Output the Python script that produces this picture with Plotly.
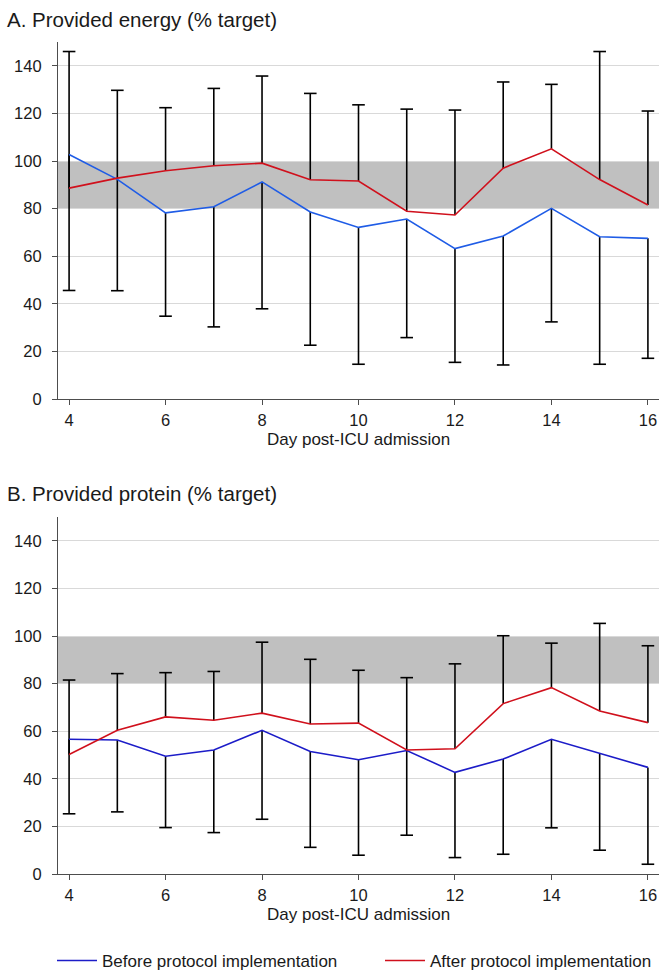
import plotly.graph_objects as go

# ---------------- data ----------------
days = list(range(4, 17))
tick_days = [4, 6, 8, 10, 12, 14, 16]
y_ticks = [0, 20, 40, 60, 80, 100, 120, 140]
target_band = [80, 100]

energy_before = [102.7, 92.3, 78.2, 80.8, 91.2, 78.6, 72.1, 75.6, 63.2, 68.5, 80.1, 68.2, 67.5]
energy_before_lower = [45.6, 45.5, 34.8, 30.3, 37.9, 22.6, 14.6, 25.8, 15.4, 14.3, 32.4, 14.6, 17.1]
energy_after = [88.6, 92.8, 95.9, 98.0, 99.1, 92.1, 91.6, 78.9, 77.3, 97.0, 105.1, 92.2, 81.5]
energy_after_upper = [146.0, 129.7, 122.4, 130.5, 135.7, 128.4, 123.6, 121.8, 121.4, 133.2, 132.2, 146.0, 121.0]

protein_before = [56.6, 56.3, 49.5, 52.1, 60.4, 51.5, 48.0, 51.9, 42.7, 48.3, 56.6, 50.7, 44.8]
protein_before_lower = [25.3, 26.1, 19.5, 17.4, 23.0, 11.2, 7.9, 16.3, 6.9, 8.3, 19.4, 10.0, 4.1]
protein_after = [50.2, 60.4, 66.0, 64.6, 67.6, 63.0, 63.4, 52.1, 52.6, 71.6, 78.3, 68.5, 63.6]
protein_after_upper = [81.5, 84.2, 84.6, 85.1, 97.4, 90.2, 85.6, 82.5, 88.3, 100.1, 97.0, 105.3, 95.9]

panel_titles = ["A. Provided energy (% target)", "B. Provided protein (% target)"]
x_title = "Day post-ICU admission"
series_names = ["Before protocol implementation", "After protocol implementation"]

# ---------------- style ----------------
W, H = 670, 970
ML, MR, MT, MB = 58, 11, 0, 30
PH = H - MT - MB
FONT = "Liberation Sans, Arial, sans-serif"
TXT = "#1a1a1a"
AX = "#4d4d4d"
GRID = "#d9d9d9"
BAND = "#c0c0c0"
RED = "#d0101c"
BLUE_A = "#1f5ce6"
BLUE_B = "#1c1cc8"
ERR_W = 1.6


def pyf(p):
    """pixel row (from top of figure) -> paper fraction"""
    return (H - MB - p) / PH


def pxf(p):
    return (p - ML) / (W - ML - MR)


fig = go.Figure()

panels = [
    dict(xa="x", ya="y", before=energy_before, lower=energy_before_lower,
         after=energy_after, upper=energy_after_upper, blue=BLUE_A, legend=False),
    dict(xa="x2", ya="y2", before=protein_before, lower=protein_before_lower,
         after=protein_after, upper=protein_after_upper, blue=BLUE_B, legend=True),
]

for p in panels:
    up_len = [u - a for u, a in zip(p["upper"], p["after"])]
    low_len = [b - l for b, l in zip(p["before"], p["lower"])]
    zeros = [0] * len(days)
    # vertical SD lines (no caps)
    fig.add_trace(go.Scatter(
        x=days, y=p["after"], mode="markers", marker=dict(size=1, opacity=0),
        error_y=dict(type="data", symmetric=False, array=up_len, arrayminus=zeros,
                     width=0, thickness=ERR_W, color="black"),
        xaxis=p["xa"], yaxis=p["ya"], showlegend=False, hoverinfo="skip"))
    fig.add_trace(go.Scatter(
        x=days, y=p["before"], mode="markers", marker=dict(size=1, opacity=0),
        error_y=dict(type="data", symmetric=False, array=zeros, arrayminus=low_len,
                     width=0, thickness=ERR_W, color="black"),
        xaxis=p["xa"], yaxis=p["ya"], showlegend=False, hoverinfo="skip"))
    # caps
    fig.add_trace(go.Scatter(
        x=days + days, y=p["upper"] + p["lower"], mode="markers",
        marker=dict(symbol="line-ew", size=9, line=dict(width=ERR_W, color="black")),
        xaxis=p["xa"], yaxis=p["ya"], showlegend=False, hoverinfo="skip"))
    # mean lines
    fig.add_trace(go.Scatter(
        x=days, y=p["before"], mode="lines", name=series_names[0],
        line=dict(color=p["blue"], width=1.6),
        xaxis=p["xa"], yaxis=p["ya"], showlegend=p["legend"]))
    fig.add_trace(go.Scatter(
        x=days, y=p["after"], mode="lines", name=series_names[1],
        line=dict(color=RED, width=1.6),
        xaxis=p["xa"], yaxis=p["ya"], showlegend=p["legend"]))

    fig.add_shape(type="rect", xref=f"{p['xa']} domain", yref=p["ya"],
                  x0=0, x1=1, y0=target_band[0], y1=target_band[1],
                  fillcolor=BAND, line=dict(width=0), layer="below")

xcommon = dict(range=[3.77, 16.23], tickvals=tick_days, ticks="outside", ticklen=5,
               tickcolor=AX, tickwidth=1.2, showline=True, linecolor=AX, linewidth=1.2,
               showgrid=False, zeroline=False, ticklabelstandoff=1,
               tickfont=dict(family=FONT, size=16.5, color=TXT))
ycommon = dict(range=[0, 150], tickvals=y_ticks, ticks="outside", ticklen=5,
               tickcolor=AX, tickwidth=1.2, showline=True, linecolor=AX, linewidth=1.2,
               showgrid=True, gridcolor=GRID, gridwidth=1.3, zeroline=False,
               ticklabelstandoff=7,
               tickfont=dict(family=FONT, size=16.5, color=TXT))

fig.update_layout(
    width=W, height=H,
    margin=dict(l=ML, r=MR, t=MT, b=MB, autoexpand=False),
    paper_bgcolor="white", plot_bgcolor="white",
    font=dict(family=FONT, color=TXT),
    xaxis=dict(domain=[0, 1], anchor="y", **xcommon),
    yaxis=dict(domain=[pyf(399), pyf(42)], anchor="x", **ycommon),
    xaxis2=dict(domain=[0, 1], anchor="y2", **xcommon),
    yaxis2=dict(domain=[pyf(874), pyf(517)], anchor="x2", **ycommon),
    legend=dict(orientation="h", x=pxf(52), xanchor="left", y=pyf(961), yanchor="middle",
                entrywidth=273, entrywidthmode="pixels", itemwidth=40,
                font=dict(family=FONT, size=17, color=TXT), bgcolor="rgba(0,0,0,0)"),
    showlegend=True,
)

# panel titles and axis titles
for title, ty, xt_y in [(panel_titles[0], 19, 439), (panel_titles[1], 493.5, 914)]:
    fig.add_annotation(text=title, xref="paper", yref="paper", x=pxf(5), y=pyf(ty),
                       xanchor="left", yanchor="middle", showarrow=False,
                       font=dict(family=FONT, size=20.5, color=TXT))
    fig.add_annotation(text=x_title, xref="paper", yref="paper", x=0.5, y=pyf(xt_y),
                       xanchor="center", yanchor="middle", showarrow=False,
                       font=dict(family=FONT, size=17, color=TXT))

fig.write_html("out.html", config={"displayModeBar": False},
               post_script="document.body.style.margin='0px';")
